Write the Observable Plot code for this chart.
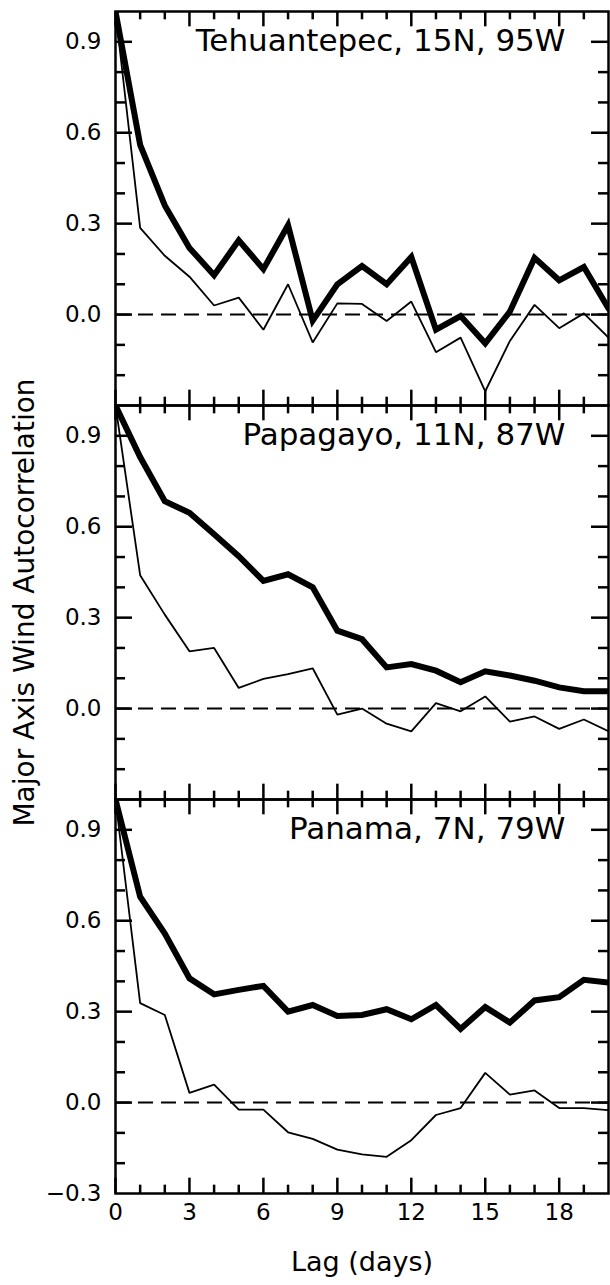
<!DOCTYPE html>
<html><head><meta charset="utf-8">
<script src="https://cdn.jsdelivr.net/npm/d3@7"></script>
<script src="https://cdn.jsdelivr.net/npm/@observablehq/plot@0.6"></script>
<style>body{margin:0;background:#fff;}</style>
</head><body><div id="chart"></div>
<script>
// ---- data ----
const sites = ["Tehuantepec, 15N, 95W", "Papagayo, 11N, 87W", "Panama, 7N, 79W"];
const lags = [0,1,2,3,4,5,6,7,8,9,10,11,12,13,14,15,16,17,18,19,20];

const tehThick = [1.0, 0.56, 0.36, 0.22, 0.13, 0.245, 0.15, 0.295, -0.02, 0.10, 0.16, 0.10, 0.19, -0.05, -0.005, -0.095, 0.01, 0.187, 0.113, 0.157, 0.02];
const tehThin  = [1.0, 0.286, 0.194, 0.125, 0.03, 0.056, -0.05, 0.10, -0.092, 0.037, 0.035, -0.021, 0.043, -0.124, -0.076, -0.253, -0.087, 0.032, -0.045, 0.004, -0.076];
const papThick = [1.0, 0.83, 0.684, 0.646, 0.575, 0.503, 0.421, 0.443, 0.40, 0.257, 0.229, 0.136, 0.147, 0.125, 0.087, 0.123, 0.109, 0.092, 0.07, 0.057, 0.057];
const papThin  = [1.0, 0.44, 0.31, 0.189, 0.20, 0.068, 0.098, 0.114, 0.133, -0.02, 0.0, -0.05, -0.075, 0.018, -0.009, 0.04, -0.043, -0.026, -0.067, -0.036, -0.075];
const panThick = [1.0, 0.679, 0.558, 0.41, 0.357, 0.372, 0.385, 0.30, 0.322, 0.286, 0.289, 0.308, 0.275, 0.322, 0.243, 0.315, 0.264, 0.337, 0.348, 0.405, 0.396];
const panThin  = [1.0, 0.328, 0.289, 0.032, 0.059, -0.023, -0.023, -0.098, -0.12, -0.155, -0.171, -0.179, -0.124, -0.041, -0.018, 0.098, 0.026, 0.04, -0.018, -0.018, -0.025];

const xLabelTicks = [0, 3, 6, 9, 12, 15, 18];
const xMinorTicks = [1, 2, 4, 5, 7, 8, 10, 11, 13, 14, 16, 17, 19];
const yLabelTicks = [0.9, 0.6, 0.3, 0.0];
const yBottomLabel = [-0.3];
const yMinorTicks = [0.8, 0.7, 0.5, 0.4, 0.2, 0.1, -0.1, -0.2];
const xTitle = "Lag (days)";
const yTitle = "Major Axis Wind Autocorrelation";

// ---- tidy table ----
const seriesList = [
  {site: sites[0], kind: "thick", values: tehThick},
  {site: sites[0], kind: "thin", values: tehThin},
  {site: sites[1], kind: "thick", values: papThick},
  {site: sites[1], kind: "thin", values: papThin},
  {site: sites[2], kind: "thick", values: panThick},
  {site: sites[2], kind: "thin", values: panThin}
];
const rows = seriesList.flatMap(s => s.values.map((v, i) => ({site: s.site, kind: s.kind, lag: lags[i], value: v})));
const yLabelRows = sites.flatMap((s, i) => (i === 2 ? yLabelTicks.concat(yBottomLabel) : yLabelTicks).map(v => ({site: s, v})));

// ---- layout ----
const W = 610, H = 1285, mL = 115, mR = 2, mT = 10, mB = 91;
const facetH = (H - mT - mB) / 3;
const plotW = W - mL - mR;
const xMajLen = 16, xMinLen = 9, yMajLen = 17, yMinLen = 10;
const tickStyle = {stroke: "black", strokeWidth: 2.5, strokeLinecap: "butt"};
const fmt = d3.format(".1f");

const chart = Plot.plot({
  width: W, height: H,
  marginLeft: mL, marginRight: mR, marginTop: mT, marginBottom: mB,
  x: {domain: [0, 20], axis: null},
  y: {domain: [-0.3, 1.0], axis: null},
  fy: {domain: sites, padding: 0, axis: null},
  style: {fontFamily: "DejaVu Sans", fontSize: "22px", background: "white", color: "black", overflow: "visible"},
  marks: [
    Plot.ruleY([0], {stroke: "black", strokeWidth: 2, strokeDasharray: "15,8"}),
    Plot.line(rows.filter(d => d.kind === "thin"), {x: "lag", y: "value", fy: "site", stroke: "black", strokeWidth: 1.8, strokeLinejoin: "miter", clip: true}),
    Plot.line(rows.filter(d => d.kind === "thick"), {x: "lag", y: "value", fy: "site", stroke: "black", strokeWidth: 6, strokeLinejoin: "miter", strokeMiterlimit: 3, clip: true}),
    Plot.frame({stroke: "black", strokeWidth: 2.5}),
    // bottom ticks (pointing up)
    Plot.ruleX(xLabelTicks, {x: d => d, insetTop: facetH - xMajLen, ...tickStyle}),
    Plot.ruleX(xMinorTicks, {x: d => d, insetTop: facetH - xMinLen, ...tickStyle}),
    // top ticks (pointing down)
    Plot.ruleX(xLabelTicks, {x: d => d, insetBottom: facetH - xMajLen, ...tickStyle}),
    Plot.ruleX(xMinorTicks, {x: d => d, insetBottom: facetH - xMinLen, ...tickStyle}),
    // left ticks
    Plot.ruleY(yLabelTicks, {y: d => d, insetRight: plotW - yMajLen, ...tickStyle}),
    Plot.ruleY(yMinorTicks, {y: d => d, insetRight: plotW - yMinLen, ...tickStyle}),
    // right ticks
    Plot.ruleY(yLabelTicks, {y: d => d, insetLeft: plotW - yMajLen, ...tickStyle}),
    Plot.ruleY(yMinorTicks, {y: d => d, insetLeft: plotW - yMinLen, ...tickStyle}),
    // y tick labels
    Plot.text(yLabelRows, {y: "v", fy: "site", text: d => fmt(d.v), frameAnchor: "left", dx: -14, textAnchor: "end", lineAnchor: "middle", fontSize: 23, fill: "black"}),
    // x tick labels (bottom panel only)
    Plot.text(xLabelTicks, {x: d => d, fy: () => sites[2], text: d => String(d), frameAnchor: "bottom", dy: 19, lineAnchor: "middle", fontSize: 23, fill: "black"}),
    // panel titles
    Plot.text(sites, {fy: d => d, text: d => d, frameAnchor: "top-right", dx: -43, dy: 30, textAnchor: "end", lineAnchor: "middle", fontSize: 31, fill: "black"}),
    // axis titles
    Plot.text([xTitle], {fy: () => sites[2], text: d => d, frameAnchor: "bottom", dy: 69, textAnchor: "middle", lineAnchor: "middle", fontSize: 27, fill: "black"}),
    Plot.text([yTitle], {fy: () => sites[1], text: d => d, frameAnchor: "left", dx: -90, rotate: -90, textAnchor: "middle", lineAnchor: "middle", fontSize: 28, fill: "black"})
  ]
});
document.getElementById("chart").append(chart);
</script>
</body></html>
